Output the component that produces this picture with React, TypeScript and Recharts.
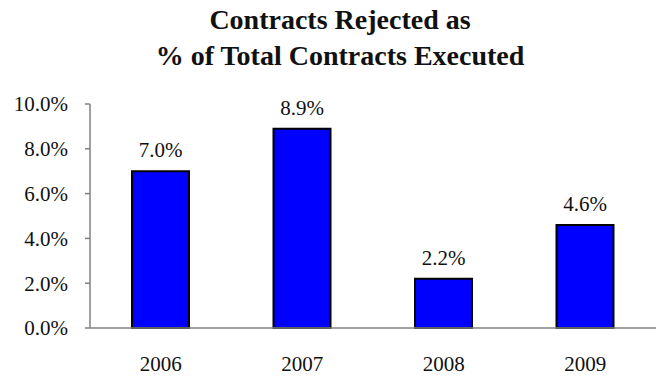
import { BarChart, Bar, XAxis, YAxis, LabelList } from 'recharts';

// Rejection rate by year (percent)
const years = ['2006', '2007', '2008', '2009'];
const rejected = [7.0, 8.9, 2.2, 4.6];
const yTicks = [0, 2, 4, 6, 8, 10];
const bandEdges = [0, 1, 2, 3, 4];

const data = years.map((year, i) => ({ year, value: rejected[i], pos: i + 0.5 }));

const font = "'Times New Roman', 'Liberation Serif', 'DejaVu Serif', serif";

const App = () => {
  return (
    <div style={{ position: 'absolute', left: 0, top: 0, width: 658, height: 379, background: '#fff' }}>
      <div
        style={{
          position: 'absolute',
          left: 0,
          top: 2,
          width: 680,
          textAlign: 'center',
          fontFamily: font,
          fontWeight: 'bold',
          fontSize: 28,
          lineHeight: '36px',
          color: '#111',
        }}
      >
        Contracts Rejected as
        <br />
        % of Total Contracts Executed
      </div>
      <BarChart
        width={658}
        height={379}
        data={data}
        margin={{ top: 104, right: 2, left: 0, bottom: 10 }}
        barCategoryGap="30%"
      >
        {/* band boundary ticks below the axis */}
        <XAxis
          xAxisId={0}
          type="number"
          dataKey="pos"
          domain={[0, 4]}
          ticks={bandEdges}
          height={1}
          tick={false}
          tickSize={7}
          axisLine={{ stroke: '#808080', strokeWidth: 1.5 }}
          tickLine={{ stroke: '#808080', strokeWidth: 1.5 }}
        />
        <XAxis
          xAxisId="cat"
          dataKey="year"
          height={40}
          axisLine={false}
          tickLine={false}
          tickMargin={21}
          tick={{ fill: '#111', fontSize: 21, fontFamily: font }}
        />
        <YAxis
          width={90}
          domain={[0, 10]}
          ticks={yTicks}
          tickSize={5}
          tickMargin={17}
          tickFormatter={(v: number) => `${v.toFixed(1)}%`}
          axisLine={{ stroke: '#808080', strokeWidth: 1.5 }}
          tickLine={{ stroke: '#808080', strokeWidth: 1.5 }}
          tick={{ fill: '#111', fontSize: 21, fontFamily: font }}
        />
        <Bar
          xAxisId="cat"
          dataKey="value"
          fill="#0000FF"
          stroke="#000"
          strokeWidth={2}
          barSize={57}
          isAnimationActive={false}
        >
          <LabelList
            dataKey="value"
            position="top"
            offset={14}
            formatter={(v: number) => `${v.toFixed(1)}%`}
            style={{ fill: '#111', fontSize: 21, fontFamily: font }}
          />
        </Bar>
      </BarChart>
    </div>
  );
};

export default App;
